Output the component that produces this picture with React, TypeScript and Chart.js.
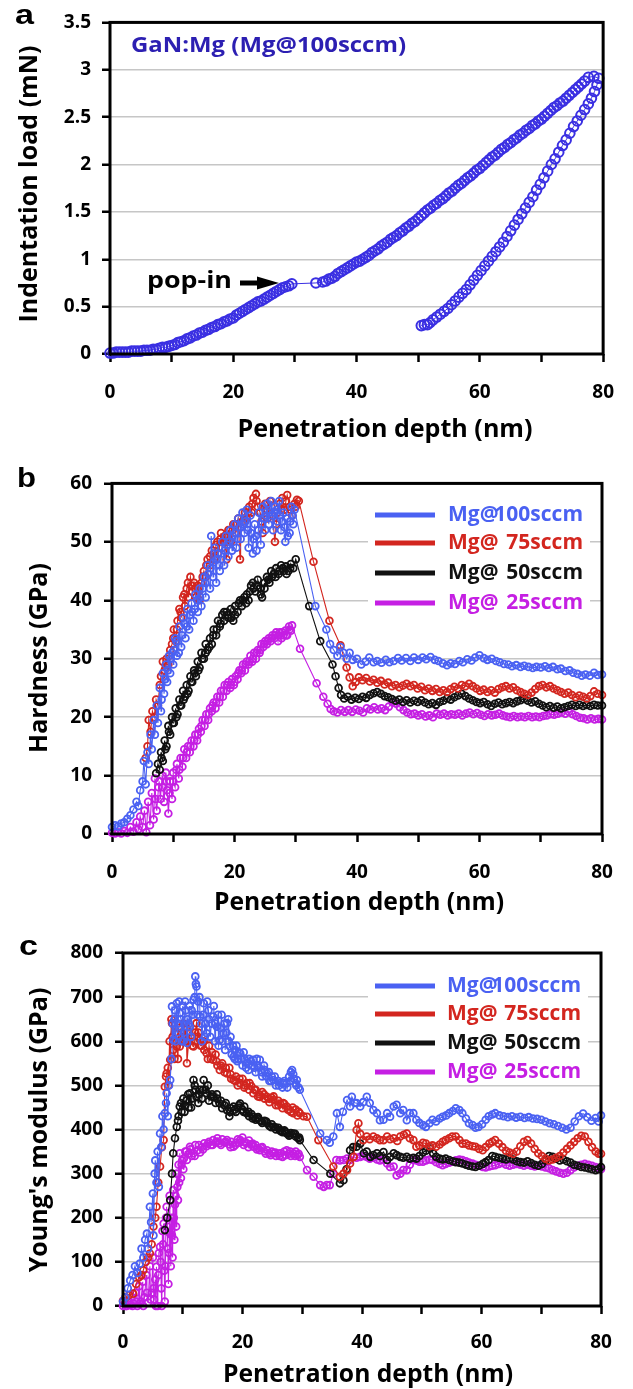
import React, { useEffect, useRef } from 'react';
import { Chart, registerables } from 'chart.js';

Chart.register(...registerables);

const FAMILY = '"Open Sans", "DejaVu Sans", sans-serif';

// ---------------- Panel a: load-displacement ----------------
const loadingCurve: [number, number][] = [
  [0,0.01],[0.5,0.01],[1,0.02],[1.5,0.02],[2,0.02],[2.5,0.02],[3,0.02],[3.5,0.03],[4,0.03],[4.5,0.03],
  [5,0.03],[5.5,0.04],[6,0.04],[6.5,0.04],[7,0.05],[7.5,0.05],[8,0.06],[8.5,0.07],[9,0.07],[9.5,0.08],
  [10,0.09],[10.5,0.1],[11,0.12],[11.5,0.13],[12,0.14],[12.5,0.16],[13,0.17],[13.5,0.19],[14,0.2],[14.5,0.22],
  [15,0.23],[15.5,0.25],[16,0.26],[16.5,0.28],[17,0.29],[17.5,0.31],[18,0.32],[18.5,0.34],[19,0.35],[19.5,0.37],
  [20,0.38],[20.5,0.41],[21,0.43],[21.5,0.45],[22,0.47],[22.5,0.49],[23,0.51],[23.5,0.53],[24,0.55],[24.5,0.56],
  [25,0.58],[25.5,0.6],[26,0.62],[26.5,0.64],[27,0.66],[27.5,0.68],[28,0.7],[28.5,0.71],[29,0.72],[29.5,0.74],
  [33.4,0.75],[34.5,0.76],[35,0.77],[35.5,0.79],[36,0.8],[36.5,0.82],[37,0.85],[37.5,0.87],[38,0.89],[38.5,0.91],
  [39,0.93],[39.5,0.95],[40,0.97],[40.5,0.98],[41,1.0],[41.5,1.02],[42,1.04],[42.5,1.07],[43,1.09],[43.5,1.11],
  [44,1.14],[44.5,1.16],[45,1.18],[45.5,1.21],[46,1.23],[46.5,1.25],[47,1.28],[47.5,1.3],[48,1.33],[48.5,1.35],
  [49,1.38],[49.5,1.4],[50,1.43],[50.5,1.46],[51,1.49],[51.5,1.52],[52,1.54],[52.5,1.57],[53,1.59],[53.5,1.62],
  [54,1.64],[54.5,1.67],[55,1.7],[55.5,1.72],[56,1.75],[56.5,1.78],[57,1.8],[57.5,1.83],[58,1.86],[58.5,1.88],
  [59,1.91],[59.5,1.94],[60,1.96],[60.5,1.99],[61,2.02],[61.5,2.05],[62,2.08],[62.5,2.1],[63,2.13],[63.5,2.16],
  [64,2.18],[64.5,2.21],[65,2.23],[65.5,2.26],[66,2.28],[66.5,2.31],[67,2.33],[67.5,2.36],[68,2.38],[68.5,2.41],
  [69,2.43],[69.5,2.46],[70,2.48],[70.5,2.51],[71,2.54],[71.5,2.57],[72,2.6],[72.5,2.62],[73,2.65],[73.5,2.67],
  [74,2.7],[74.5,2.73],[75,2.76],[75.5,2.79],[76,2.82],[76.5,2.85],[77,2.88],[77.6,2.92],[78.5,2.93],[79.3,2.91]
];
const unloadingCurve: [number, number][] = [
  [79.0,2.84],[78.6,2.77],[78.1,2.7],[77.6,2.64],[77.0,2.58],[76.4,2.52],[75.8,2.46],[75.2,2.4],[74.6,2.33],
  [74.0,2.26],[73.4,2.2],[72.8,2.13],[72.2,2.06],[71.6,2.0],[71.0,1.93],[70.4,1.86],[69.8,1.79],[69.2,1.73],
  [68.6,1.66],[68.0,1.6],[67.4,1.54],[66.8,1.48],[66.2,1.42],[65.6,1.36],[65.0,1.3],[64.4,1.24],[63.8,1.18],
  [63.2,1.13],[62.6,1.08],[62.0,1.03],[61.4,0.98],[60.8,0.93],[60.2,0.88],[59.6,0.83],[59.0,0.78],[58.4,0.73],
  [57.8,0.68],[57.2,0.64],[56.6,0.6],[56.0,0.56],[55.4,0.52],[54.8,0.48],[54.2,0.45],[53.6,0.42],[53.0,0.39],
  [52.4,0.36],[51.9,0.33],[51.5,0.31],[51.0,0.31],[50.5,0.30]
];

// ---------------- Panel b: hardness ----------------
const hard100: [number, number][] = [
  [0,1.2],[0.5,1.5],[1,1.3],[1.5,1.8],[2,2.0],[2.5,2.6],[3,3.2],[3.5,4.2],[4,5.5],[4.3,4.8],[4.6,7.5],[5,9],
  [5.2,12.5],[5.5,8.5],[5.8,14],[6,12],[6.3,17],[6.5,14.5],[6.8,19.5],[7,17],[7.3,22],[7.5,19],[7.8,25],[8,21],
  [8.3,27.5],[8.5,24],[8.8,29],[9,26],[9.3,30.5],[9.5,27.5],[9.8,31],[10,29],[10.3,33.5],[10.6,30.5],[11,35.5],
  [11.3,32],[11.6,37],[12,33.5],[12.3,38.5],[12.6,35],[13,39.5],[13.3,36.5],[13.6,41],[14,38],[14.3,42],[14.6,39],
  [15,44],[15.3,40.5],[15.6,46],[16,42],[16.2,51],[16.5,44],[16.8,49],[17,43],[17.3,48],[17.6,45],[18,50],[18.3,46],
  [18.6,51],[19,47.5],[19.3,52],[19.6,48.5],[20,53],[20.3,49],[20.6,54],[21,50.5],[21.3,55],[21.6,51.5],[22,55.5],
  [22.3,49],[22.6,54.5],[23,48],[23.3,53],[23.6,48.5],[24,55],[24.3,49.5],[24.6,56],[25,52],[25.3,56.5],[25.6,53],
  [26,57],[26.3,52],[26.6,56],[27,53.5],[27.3,57],[27.6,52],[28,55],[28.3,50],[28.6,54],[29,51.5],[29.3,56],
  [29.6,53],[29.8,55.5],
  [33.2,39],[35,35],[35.6,32.5],[36.2,31.5],[36.8,30.5],[37.3,32],[37.8,31],[38.3,30],[38.8,31],[39.3,29.8],
  [40,30],[40.7,29],[41.4,29.5],[42,30.2],[42.7,29.4],[43.3,29.6],[44,29.3],[44.7,29.8],[45.3,29.4],[46,29.6],
  [46.7,30.1],[47.3,29.7],[48,30.1],[48.7,29.6],[49.3,30.2],[50,29.8],[50.7,30.2],[51.3,29.9],[52,30.3],[52.7,29.8],
  [53.3,29.6],[54,29.2],[54.7,28.9],[55.3,29.2],[56,29.1],[56.7,29.6],[57.3,29.4],[58,29.9],[58.7,29.7],[59.3,30.2],
  [60,30.6],[60.7,30.1],[61.3,29.8],[62,30.0],[62.7,29.6],[63.3,29.4],[64,29.1],[64.7,29.0],[65.3,28.7],[66,28.9],
  [66.7,28.6],[67.3,28.8],[68,28.6],[68.7,28.4],[69.3,28.6],[70,28.5],[70.7,28.7],[71.3,28.4],[72,28.6],[72.7,28.2],
  [73.3,28.3],[74,27.9],[74.7,28.0],[75.3,27.6],[76,27.4],[76.7,27.1],[77.3,27.3],[78,27.1],[78.7,27.6],[79.3,27.2],[80,27.3]
];
const hard100Dense: [number, number][] = [
  [8.1,23],[8.7,26.5],[9.1,28],[9.6,30],[10.1,31.5],[10.5,33],[10.9,31],[11.4,34],[11.8,36],[12.2,35.5],[12.7,37.5],
  [13.1,38],[13.5,38.5],[13.9,40],[14.4,40.5],[14.8,42],[15.2,43],[15.7,44.5],[16.1,45.5],[16.6,46.5],[17.1,47],
  [17.5,46],[17.9,48],[18.4,48.5],[18.8,49.5],[19.2,50],[19.7,51],[20.1,51.5],[20.5,50.5],[20.9,52.5],[21.4,53],
  [21.8,53.5],[22.2,52],[22.7,51.5],[23.1,50.5],[23.5,51],[23.9,52],[24.4,53],[24.8,54],[25.2,54.5],[25.7,55],
  [26.1,54.5],[26.5,55],[26.9,55.5],[27.4,54.5],[27.8,53.5],[28.2,52.5],[28.7,51],[29.1,53.5],[29.5,54.5]
];
const hard75: [number, number][] = [
  [5.5,13],[5.8,15],[6,19.5],[6.3,17.5],[6.6,21],[6.9,20],[7.2,23],[7.5,22],[7.8,25.5],[8,27],[8.3,29.5],[8.6,28],
  [8.9,30],[9.2,29],[9.5,31.5],[9.8,32.5],[10.1,35],[10.4,33],[10.7,36.5],[11,38.5],[11.3,37],[11.6,40.5],[11.9,39],
  [12.2,42],[12.5,40.5],[12.8,44],[13.1,41.5],[13.4,43],[13.7,40.5],[14,42.5],[14.3,40],[14.6,43],[15,45],[15.3,44],
  [15.6,47],[16,46],[16.3,48.5],[16.7,47],[17,49.5],[17.3,48],[17.7,50.5],[18,49],[18.4,51],[18.7,47],[19,52],
  [19.4,50],[19.8,53],[20.2,51.5],[20.6,54],[20.9,47],[21.3,53.5],[21.7,55],[22,54],[22.4,56],[22.8,55],[23.1,57.5],
  [23.5,58.2],[23.8,56],[24.2,55],[24.6,51.5],[25,56.5],[25.4,54],[25.8,57],[26.2,54.5],[26.6,50],[27,55],[27.4,56.5],
  [27.8,57.5],[28.2,55.5],[28.6,58],[29,56],[29.4,54.5],[29.8,56.5],[30.2,57.2],[30.5,57],
  [32.9,46.6],[35.5,36.5],[37.3,32.3],[38.3,28.5],[38.8,26.8],[39.3,25.3],[39.8,26],[40.3,26.8],[40.9,26.3],[41.5,26.7],
  [42.1,26.1],[42.7,26.4],[43.3,25.9],[43.9,26.2],[44.5,25.6],[45.1,25.9],[45.7,25.3],[46.3,25.5],[46.9,25.1],[47.5,25.4],
  [48.1,25.7],[48.7,25.3],[49.3,25.5],[49.9,24.9],[50.5,25.2],[51.1,24.6],[51.7,24.9],[52.3,24.5],[52.9,24.8],[53.5,24.3],
  [54.1,24.6],[54.7,24.3],[55.3,24.8],[55.9,25.2],[56.5,24.9],[57.1,25.5],[57.7,25.3],[58.3,25.7],[58.9,25.3],[59.5,24.9],
  [60.1,24.5],[60.7,24.7],[61.3,24.3],[61.9,24.6],[62.5,24.2],[63.1,24.8],[63.7,25.1],[64.3,25.3],[64.9,24.9],[65.5,25.1],
  [66.1,24.6],[66.7,24.3],[67.3,24.0],[67.9,23.8],[68.5,24.2],[69.1,24.8],[69.7,25.3],[70.3,25.5],[70.9,25.1],[71.5,25.3],
  [72.1,24.9],[72.7,24.6],[73.3,24.3],[73.9,24.0],[74.5,24.2],[75.1,23.8],[75.7,23.4],[76.3,23.7],[76.9,23.5],[77.5,23.2],
  [78.1,23.6],[78.7,24.4],[79.3,24.0],[80,23.8]
];
const hard75Dense: [number, number][] = [
  [8.8,28.5],[9.4,30.5],[10,33.5],[10.6,35],[11.2,38],[11.8,41],[12.4,43],[13,42.5],[13.6,42],[14.2,41.5],[14.8,44],
  [15.4,46],[16,47.5],[16.6,48],[17.2,50],[17.8,51.5],[18.5,50],[19.1,51],[19.7,52],[20.3,53],[21,52.5],[21.6,54],
  [22.2,55],[22.9,56.5],[23.6,57],[24.4,53.5],[25.2,55.5],[26,56],[26.8,53],[27.6,55.5],[28.4,57],[29.2,55.5],[30,56]
];
const hard50: [number, number][] = [
  [7.2,10.4],[7.5,12],[7.8,11],[8,14],[8.3,12.5],[8.6,16],[8.9,15],[9.2,18.5],[9.5,17],[9.8,20],[10.1,19],[10.4,21.5],
  [10.7,20.5],[11,23],[11.3,22],[11.6,24.5],[11.9,23.5],[12.2,25.5],[12.5,24.5],[12.8,27],[13.1,26],[13.4,28],[13.7,27],
  [14,29.5],[14.3,28.5],[14.6,31],[15,30],[15.3,32.5],[15.6,31.5],[16,33.5],[16.3,32.5],[16.6,35],[17,34],[17.3,36.5],
  [17.6,35.5],[18,37.5],[18.3,36.5],[18.7,38],[19,37],[19.4,38.5],[19.8,36.5],[20.1,39],[20.5,38],[20.9,40],[21.2,39],
  [21.6,40.5],[22,41],[22.3,40],[22.7,42.5],[23,43],[23.4,41.5],[23.8,43.5],[24.2,42],[24.5,40.5],[24.9,43],[25.3,44],
  [25.7,43],[26,45],[26.4,44.5],[26.8,45.5],[27.2,44.5],[27.6,46],[28,45],[28.4,45.8],[28.8,45],[29.2,46.2],[29.6,45.5],[30,47],
  [32.2,39],[34,33],[36,29],[36.5,27],[37,25],[37.4,23.8],[37.9,23.2],[38.5,23.5],[39.1,23],[39.7,23.3],[40.3,23.1],
  [40.9,23.5],[41.5,23.3],[42.1,23.8],[42.7,24.1],[43.3,24.3],[43.9,24.0],[44.5,23.6],[45.1,23.4],[45.7,23.1],[46.3,22.8],
  [46.9,23.0],[47.5,22.6],[48.1,22.9],[48.7,22.5],[49.3,22.8],[49.9,22.6],[50.5,22.9],[51.1,22.5],[51.7,22.2],[52.3,22.4],
  [52.9,22.1],[53.5,22.6],[54.1,22.8],[54.7,23.2],[55.3,23.0],[55.9,23.4],[56.5,23.7],[57.1,24.0],[57.7,23.6],[58.3,23.2],
  [58.9,22.9],[59.5,22.6],[60.1,22.4],[60.7,22.6],[61.3,22.2],[61.9,21.9],[62.5,22.3],[63.1,22.5],[63.7,22.2],[64.3,22.4],
  [64.9,22.6],[65.5,22.4],[66.1,22.7],[66.7,22.9],[67.3,23.1],[67.9,22.8],[68.5,22.5],[69.1,22.7],[69.7,22.3],[70.3,22.0],
  [70.9,21.7],[71.5,21.9],[72.1,21.6],[72.7,21.8],[73.3,21.5],[73.9,21.7],[74.5,21.9],[75.1,22.1],[75.7,21.9],[76.3,22.1],
  [76.9,21.9],[77.5,22.1],[78.1,21.9],[78.7,22.1],[79.3,22.0],[80,22.0]
];
const hard50Dense: [number, number][] = [
  [8.1,13],[8.7,14.5],[9.3,17.5],[9.9,19],[10.5,20],[11.1,22],[11.7,23],[12.3,24],[12.9,26],[13.5,27.5],[14.1,28],
  [14.7,30],[15.3,31],[15.9,32],[16.5,34],[17.1,35],[17.7,36],[18.3,38],[18.9,37.5],[19.5,37],[20.1,37.5],[20.7,39.5],
  [21.3,40],[21.9,39.5],[22.5,41.5],[23.1,42],[23.7,42.5],[24.3,41],[24.9,42],[25.5,43.5],[26.1,44],[26.7,44],[27.3,45],
  [27.9,45.5],[28.5,44.5],[29.1,45.5]
];
const hard25: [number, number][] = [
  [0,0.2],[0.5,0.1],[1,0.3],[1.5,0.1],[2,0.5],[2.5,0.2],[3,1.2],[3.5,0.4],[4,2],[4.3,0.8],[4.6,3],[5,1.2],[5.3,4],
  [5.6,0.3],[5.9,5.5],[6.2,1.5],[6.5,7],[6.8,2.5],[7,9.5],[7.3,4],[7.6,8],[7.9,6],[8.2,10],[8.5,5.5],[8.8,10.5],[9,7.5],
  [9.2,3.5],[9.5,9],[9.8,6],[10,10.5],[10.3,8],[10.6,12],[10.9,9.5],[11.2,13],[11.5,11.5],[11.8,14.5],[12.1,13],[12.4,15],
  [12.7,14],[13,16],[13.3,15],[13.6,17],[13.9,16],[14.2,18],[14.5,17.5],[14.8,19.5],[15.1,18.5],[15.4,20.5],[15.7,19.5],
  [16,21.5],[16.3,21],[16.6,22.5],[16.9,21.5],[17.2,23.5],[17.5,22.5],[17.8,24.5],[18.1,23.5],[18.4,25.5],[18.7,24.5],
  [19,26],[19.3,25],[19.6,26.5],[19.9,25.5],[20.2,27],[20.5,26.5],[20.8,28],[21.1,27.5],[21.4,29],[21.7,28],[22,29.5],
  [22.3,29],[22.6,30.5],[22.9,29.5],[23.2,31],[23.5,30],[23.8,31.5],[24.1,31],[24.4,32.5],[24.7,32],[25,33],[25.3,32.5],
  [25.6,33.5],[25.9,33],[26.2,34],[26.5,33.5],[26.8,34.5],[27.1,33],[27.4,34.5],[27.7,33.5],[28,34],[28.3,34.8],[28.6,34],
  [28.9,35.5],[29.2,34.8],[29.4,35.7],
  [30.7,31.7],[33.4,25.8],[34.5,23.5],[35.2,22.3],[35.7,21.4],[36.2,21],[36.8,20.8],[37.4,21.2],[38,20.9],[38.6,21.2],
  [39.2,20.9],[39.8,21.3],[40.4,21.1],[41,20.8],[41.6,21.5],[42.2,21.3],[42.8,21.7],[43.4,21.3],[44,21.5],[44.6,21.2],
  [45.2,21.8],[45.8,22.5],[46.4,22.3],[47,21.7],[47.6,21.2],[48.2,20.8],[48.8,20.5],[49.4,20.6],[50,20.3],[50.6,20.5],
  [51.2,20.1],[51.8,20.3],[52.4,20.0],[53,20.6],[53.6,20.4],[54.2,20.6],[54.8,20.3],[55.4,20.5],[56,20.4],[56.6,20.6],
  [57.2,20.3],[57.8,20.6],[58.4,20.8],[59,20.5],[59.6,20.7],[60.2,20.4],[60.8,20.2],[61.4,20.5],[62,20.3],[62.6,20.4],
  [63.2,20.6],[63.8,20.3],[64.4,20.1],[65,20.0],[65.6,20.2],[66.2,20.0],[66.8,20.1],[67.4,20.0],[68,20.2],[68.6,20.0],
  [69.2,20.1],[69.8,20.0],[70.4,20.2],[71,20.3],[71.6,20.5],[72.2,20.4],[72.8,20.6],[73.4,20.8],[74,20.6],[74.6,20.9],
  [75.2,20.5],[75.8,20.2],[76.4,19.9],[77,19.8],[77.6,19.6],[78.2,19.8],[78.8,19.6],[79.4,19.7],[80,19.6]
];
const hard25Dense: [number, number][] = [
  [7.1,6],[7.7,9],[8.3,8],[8.9,9],[9.4,7],[10,9],[10.5,11],[11,11],[11.6,13],[12.2,14],[12.8,15],[13.4,16],[14,17],
  [14.6,18.5],[15.2,19.5],[15.8,20.5],[16.4,22],[17,22.5],[17.6,23.5],[18.2,24.5],[18.8,25.5],[19.4,25.5],[20,26],
  [20.6,27.5],[21.2,28],[21.8,29],[22.4,29.5],[23,30],[23.6,31],[24.2,31.5],[24.8,32.5],[25.4,33],[26,33.5],[26.6,34],
  [27.2,34],[27.8,34.5],[28.4,34],[29,35]
];

// ---------------- Panel c: Young's modulus ----------------
const mod100: [number, number][] = [
  [0,10],[0.4,20],[0.8,40],[1.2,58],[1.6,70],[2,90],[2.4,75],[2.8,96],[3.1,130],[3.4,110],[3.7,150],[4,164],[4.2,130],
  [4.5,225],[4.7,190],[5,255],[5.1,160],[5.3,300],[5.4,330],[5.6,280],[5.8,350],[6,270],[6.2,391],[6.4,360],[6.6,430],
  [6.8,400],[7,437],[7.2,460],[7.3,482],[7.5,430],[7.7,500],[7.9,512],[8.1,560],[8.2,679],[8.4,603],[8.6,650],[8.8,600],
  [9,686],[9.2,640],[9.5,664],[9.8,600],[10,680],[10.2,620],[10.5,670],[10.7,596],[11,640],[11.2,633],[11.5,670],
  [11.8,694],[12.1,747],[12.2,730],[12.3,724],[12.6,690],[12.9,656],[13.2,600],[13.5,686],[13.8,640],[14,618],[14.3,670],
  [14.6,610],[15.1,656],[15.4,600],[15.7,633],[16,590],[16.2,603],[16.5,660],[16.8,618],[17.1,580],[17.4,641],[17.7,600],
  [17.9,588],[18.2,570],[18.5,565],[18.8,580],[19.1,555],[19.4,575],[19.6,573],[20,545],[20.3,560],[20.7,550],[21,535],
  [21.4,555],[21.8,558],[22.2,530],[22.5,545],[22.9,558],[23.3,520],[23.7,535],[24.1,527],[24.5,510],[24.9,520],[25.2,512],
  [25.6,500],[26,510],[26.3,505],[26.7,495],[27,510],[27.4,505],[27.8,520],[28.1,530],[28.3,535],[28.6,515],[28.9,505],
  [29.1,512],[29.4,495],[29.6,490],
  [33,391],[34.1,376],[34.6,370],[35.2,384],[35.8,437],[36.3,406],[36.8,440],[37.5,467],[38,452],[38.3,474],[38.8,460],
  [39.1,460],[39.7,452],[40.2,462],[40.8,474],[41.3,460],[41.9,444],[42.5,437],[43,421],[43.6,422],[44.2,437],[44.7,429],
  [45.3,452],[45.8,456],[46.4,437],[46.9,444],[47.5,421],[48,437],[48.6,437],[49.1,422],[49.6,415],[50.2,410],[50.7,406],
  [51.3,414],[51.8,422],[52.4,418],[53,425],[53.5,429],[54.1,432],[54.6,437],[55.2,442],[55.7,448],[56.3,444],[56.8,437],
  [57.4,425],[57.9,414],[58.5,410],[59,404],[59.5,406],[60.1,412],[60.7,422],[61.2,430],[61.8,434],[62.3,437],[63,432],
  [63.7,430],[64.4,428],[65.1,430],[65.8,427],[66.5,429],[67.2,426],[67.9,428],[68.6,425],[69.3,424],[70,422],[70.7,418],
  [71.4,414],[72.1,412],[72.8,408],[73.5,404],[74.2,400],[74.9,404],[75.6,418],[76.3,430],[77,436],[77.7,428],[78.4,420],
  [79.1,426],[79.6,418],[80,432]
];
const mod100Dense: [number, number][] = [
  [8.3,640],[8.7,670],[9.1,620],[9.4,690],[9.7,650],[10.1,600],[10.4,690],[10.8,650],[11.1,680],[11.4,610],[11.7,660],
  [12,700],[12.5,660],[12.8,700],[13.1,640],[13.4,660],[13.7,610],[14.1,690],[14.4,650],[14.8,640],[15.2,680],[15.5,640],
  [15.9,660],[16.3,630],[16.6,600],[17,640],[17.3,620],[17.6,650],[18,610],[18.4,590],[18.7,560],[19,590],[19.3,560],
  [19.8,560],[20.2,575],[20.6,540],[21.1,560],[21.6,545],[22,540],[22.4,560],[22.8,540],[23.2,530],[23.6,545],[24,520],
  [24.4,530],[24.8,510],[25.4,520],[26.1,500],[26.8,505],[27.5,495],[28,510],[28.5,525],[29,500]
];
const mod75: [number, number][] = [
  [0,12],[0.5,20],[1,25],[1.7,28],[2.2,50],[2.7,65],[3.1,70],[3.4,81],[3.8,100],[4.2,110],[4.5,119],[4.8,140],[5.1,180],
  [5.4,200],[5.6,225],[5.9,280],[6.2,316],[6.5,360],[6.8,376],[7,497],[7.3,527],[7.6,500],[7.9,558],[8.1,650],[8.2,641],
  [8.4,580],[8.7,620],[9,588],[9.2,560],[9.5,588],[9.8,620],[10.1,640],[10.4,600],[10.7,550],[11,600],[11.2,633],[11.5,610],
  [11.8,588],[12.1,620],[12.3,641],[12.6,620],[12.9,603],[13.2,590],[13.6,580],[14,573],[14.4,590],[14.7,560],[15.1,558],
  [15.5,570],[15.8,545],[16.2,535],[16.6,550],[17,530],[17.4,527],[17.8,540],[18.1,515],[18.5,512],[18.9,520],[19.2,500],
  [19.6,505],[20,515],[20.3,495],[20.7,505],[21.1,490],[21.5,498],[21.8,482],[22.2,490],[22.6,475],[22.9,474],[23.3,485],
  [23.7,470],[24.1,474],[24.5,462],[24.9,472],[25.2,467],[25.6,455],[26,465],[26.3,459],[26.7,448],[27,458],[27.4,452],
  [27.8,445],[28.1,440],[28.5,437],[28.9,445],[29.2,432],[29.6,437],[30.2,430],[30.8,429],
  [32.7,376],[35.2,316],[36.3,293],[36.9,300],[37.5,308],[38,323],[38.6,338],[39.1,399],[39.4,414],[39.7,390],[40.2,376],
  [40.8,384],[41.3,378],[41.9,384],[42.5,380],[43,376],[43.6,376],[44.2,384],[44.7,378],[45.3,380],[45.9,374],[46.4,384],
  [47,388],[47.5,391],[48,380],[48.6,376],[49.1,361],[49.6,364],[50.2,370],[50.7,368],[51.3,362],[51.8,364],[52.4,361],
  [53,366],[53.5,372],[54,376],[54.6,380],[55.1,384],[55.7,384],[56.3,376],[56.8,368],[57.4,368],[57.9,364],[58.5,362],
  [59,361],[59.6,356],[60.2,353],[60.7,360],[61.3,368],[61.8,372],[62.3,376],[62.9,368],[63.5,360],[64.1,352],[64.7,348],
  [65.3,345],[65.9,350],[66.5,362],[67.1,372],[67.7,376],[68.3,368],[68.9,356],[69.5,346],[70.1,340],[70.7,334],[71.3,330],
  [71.9,332],[72.5,336],[73.1,340],[73.7,348],[74.3,356],[74.9,364],[75.5,372],[76.1,380],[76.7,386],[77.3,384],[77.9,372],
  [78.5,360],[79.1,350],[79.6,345],[80,345]
];
const mod75Dense: [number, number][] = [
  [7.2,520],[7.5,540],[7.8,600],[8.3,610],[8.6,560],[8.9,600],[9.3,630],[9.7,600],[10.2,610],[10.6,630],[11.1,620],
  [11.6,590],[12,600],[12.5,610],[13,590],[13.5,600],[14.2,560],[14.9,575],[15.6,555],[16.4,545],[17.2,540],[18,525],
  [18.8,510],[19.5,515],[20.4,500],[21.2,505],[22,490],[22.8,480],[23.6,480],[24.4,470],[25.2,475],[26,455],[26.8,460],
  [27.6,445],[28.4,450],[29.4,440]
];
const mod50: [number, number][] = [
  [7,172],[7.4,200],[7.9,240],[8.2,300],[8.4,346],[8.7,380],[9,406],[9.3,430],[9.5,452],[9.8,440],[10.1,470],[10.4,455],
  [10.7,467],[11,450],[11.2,482],[11.5,470],[11.8,512],[12.1,490],[12.3,474],[12.6,460],[12.9,490],[13.2,470],[13.5,512],
  [13.8,490],[14,482],[14.4,465],[14.7,475],[15.1,474],[15.5,460],[15.8,470],[16.2,459],[16.6,448],[17,455],[17.4,444],
  [17.8,430],[18.1,448],[18.5,452],[18.9,440],[19.2,450],[19.6,459],[20,445],[20.3,452],[20.7,437],[21.1,430],[21.5,435],
  [21.8,429],[22.2,422],[22.6,428],[22.9,421],[23.3,415],[23.7,420],[24.1,414],[24.5,408],[24.9,412],[25.2,406],[25.6,400],
  [26,404],[26.3,399],[26.7,394],[27,398],[27.4,391],[27.8,386],[28.1,392],[28.5,391],[28.9,384],[29.3,380],[29.6,376],
  [31.9,331],[34.7,300],[36.3,278],[36.9,285],[37.4,310],[38,353],[38.5,360],[39.1,361],[39.7,368],[40.3,346],[40.8,350],
  [41.4,338],[41.9,342],[42.5,346],[43,340],[43.6,349],[44.2,331],[44.7,338],[45.3,346],[45.8,342],[46.4,338],[46.9,336],
  [47.5,338],[48,334],[48.6,336],[49.1,334],[49.6,340],[50.2,348],[50.7,352],[51.4,357],[51.9,346],[52.4,338],[53,334],
  [53.5,332],[54,334],[54.6,331],[55.2,328],[55.7,326],[56.3,325],[56.8,323],[57.4,320],[57.9,318],[58.5,316],[59,315],
  [59.6,318],[60.2,322],[60.7,326],[61.2,331],[61.8,340],[62.3,338],[62.9,336],[63.5,334],[64.1,332],[64.7,335],[65.3,332],
  [65.9,328],[66.5,326],[67.1,325],[67.7,328],[68.3,324],[68.9,320],[69.5,318],[70.1,322],[70.7,330],[71.3,340],[71.9,338],
  [72.5,334],[73.1,330],[73.7,332],[74.3,328],[74.9,325],[75.5,320],[76.1,318],[76.7,315],[77.3,314],[77.9,312],[78.5,310],
  [79.1,308],[79.6,310],[80,315]
];
const mod50Dense: [number, number][] = [
  [9.2,420],[9.7,460],[10.3,440],[10.9,480],[11.4,450],[12,500],[12.7,480],[13.4,490],[14.2,500],[14.9,480],[15.7,480],
  [16.4,465],[17.2,460],[17.9,440],[18.7,445],[19.4,455],[20.2,440],[21,440],[21.7,425],[22.5,425],[23.2,418],[24,418],
  [24.8,405],[25.5,405],[26.4,396],[27.2,395],[28,388],[28.8,390],[29.5,382]
];
const mod25: [number, number][] = [
  [0,0],[0.3,5],[0.6,0],[0.9,10],[1.2,2],[1.5,20],[1.8,5],[2.1,30],[2.4,0],[2.7,45],[3,10],[3.3,55],[3.6,20],[3.9,70],
  [4.2,8],[4.5,90],[4.8,30],[5,110],[5.2,15],[5.4,60],[5.6,89],[5.8,0],[6,120],[6.2,134],[6.4,40],[6.6,170],[6.8,187],
  [6.9,80],[7,10],[7.2,200],[7.3,225],[7.5,130],[7.6,50],[7.8,250],[7.9,164],[8,90],[8.1,200],[8.3,110],[8.4,263],
  [8.6,150],[8.7,230],[8.9,180],[9,300],[9.2,240],[9.3,320],[9.5,346],[9.7,290],[9.9,330],[10.1,310],[10.4,350],
  [10.7,331],[11,345],[11.2,361],[11.5,340],[11.8,346],[12.1,365],[12.5,353],[12.9,348],[13.2,360],[13.6,369],[14,362],
  [14.4,372],[14.7,365],[15.1,376],[15.5,370],[15.8,380],[16.2,369],[16.6,378],[17,370],[17.4,376],[17.8,366],[18.1,372],
  [18.5,361],[18.9,370],[19.2,378],[19.6,376],[20,382],[20.3,372],[20.7,369],[21.1,375],[21.5,366],[21.8,361],[22.2,365],
  [22.6,358],[22.9,353],[23.3,360],[23.7,350],[24.1,353],[24.5,346],[24.9,350],[25.2,346],[25.6,340],[26,345],[26.3,346],
  [26.7,338],[27,350],[27.4,353],[27.8,345],[28.1,340],[28.5,346],[28.9,350],[29.2,342],[29.6,338],
  [30.8,308],[31.9,293],[33,274],[33.6,270],[34.1,274],[34.6,274],[35.2,300],[35.7,331],[36.3,330],[36.9,331],[37.5,334],
  [38,331],[38.6,338],[39.1,336],[39.7,338],[40.2,340],[40.8,338],[41.3,334],[41.9,336],[42.5,332],[43,330],[43.6,331],
  [44.2,323],[44.7,315],[45.3,316],[45.8,296],[46.4,300],[46.9,308],[47.5,308],[48,320],[48.6,331],[49.1,330],[49.6,327],
  [50.2,327],[50.7,330],[51.3,332],[51.8,331],[52.4,326],[53,322],[53.5,319],[54,322],[54.6,325],[55.2,327],[55.7,330],
  [56.3,332],[56.8,331],[57.4,328],[57.9,325],[58.5,323],[59,320],[59.6,318],[60.2,315],[60.7,314],[61.3,316],[61.8,318],
  [62.3,319],[62.9,322],[63.5,324],[64.1,320],[64.7,318],[65.3,320],[65.9,322],[66.5,320],[67.1,318],[67.7,320],[68.3,318],
  [68.9,316],[69.5,318],[70.1,316],[70.7,314],[71.3,312],[71.9,308],[72.5,305],[73.1,302],[73.7,300],[74.3,302],[74.9,308],
  [75.5,314],[76.1,318],[76.7,320],[77.3,322],[77.9,320],[78.5,318],[79.1,315],[79.6,312],[80,310]
];
const mod25Dense: [number, number][] = [
  [0.5,0],[1,3],[1.6,0],[2.2,10],[2.8,5],[3.4,0],[4,30],[4.6,15],[5.1,40],[5.5,0],[5.9,70],[6.3,100],[6.5,0],[6.7,140],
  [7.1,90],[7.4,180],[7.7,120],[8.2,160],[8.5,200],[8.8,250],[9.1,270],[9.4,280],[9.8,320],[10.2,335],[10.6,350],
  [11.3,355],[12,340],[12.7,365],[13.4,355],[14.2,368],[15,365],[15.7,372],[16.4,365],[17.2,372],[18,360],[18.8,365],
  [19.5,370],[20.2,365],[21,360],[21.7,368],[22.4,355],[23.1,358],[23.9,345],[24.7,342],[25.5,348],[26.2,340],[27.2,342],
  [28,350],[28.8,340],[29.4,345]
];

const seriesLabels = ['Mg@100sccm', 'Mg@ 75sccm', 'Mg@ 50sccm', 'Mg@ 25sccm'];
const seriesColors = ['#4a61f2', '#d3261f', '#111111', '#c51fe3'];
const xTicksLabelled = [0, 20, 40, 60, 80];

const toXY = (arr: [number, number][]) => arr.map(([x, y]) => ({ x, y }));
const byDepth = (a: [number, number][], b: [number, number][]) =>
  [...a, ...b].sort((p, q) => p[0] - q[0]);

type TextItem = {
  text: string; x: number; y: number; size: number; color?: string;
  align?: CanvasTextAlign; baseline?: CanvasTextBaseline; rotate?: boolean;
  w?: number; family?: string; weight?: string;
};

function textPlugin(items: TextItem[], extra?: (ctx: CanvasRenderingContext2D) => void) {
  return {
    id: 'texts',
    afterDraw(chart: any) {
      const ctx: CanvasRenderingContext2D = chart.ctx;
      for (const t of items) {
        ctx.save();
        ctx.font = `${t.weight || 'bold'} ${t.size}px ${t.family || FAMILY}`;
        ctx.fillStyle = t.color || '#000';
        ctx.textBaseline = t.baseline || 'middle';
        ctx.textAlign = t.align || 'center';
        ctx.translate(t.x, t.y);
        if (t.rotate) ctx.rotate(-Math.PI / 2);
        if (t.w) {
          const m = ctx.measureText(t.text).width;
          ctx.scale(t.w / m, 1);
        }
        ctx.fillText(t.text, 0, 0);
        ctx.restore();
      }
      if (extra) extra(ctx);
    },
  };
}

const framePlugin = {
  id: 'frame',
  afterDatasetsDraw(chart: any) {
    const { ctx, chartArea: a } = chart;
    ctx.save();
    ctx.strokeStyle = '#000';
    ctx.lineWidth = 3;
    ctx.strokeRect(a.left, a.top, a.right - a.left, a.bottom - a.top);
    ctx.restore();
  },
};

function legendPlugin(cfg: { rows: number[]; x0: number; x1: number; tx: number; tr: number; box: number[]; size: number }) {
  return {
    id: 'customLegend',
    afterDatasetsDraw(chart: any) {
      const ctx: CanvasRenderingContext2D = chart.ctx;
      const [l, t, r, b] = cfg.box;
      ctx.save();
      ctx.fillStyle = '#fff';
      ctx.fillRect(l, t, r - l, b - t);
      chart.data.datasets.forEach((ds: any, i: number) => {
        const y = cfg.rows[i];
        ctx.strokeStyle = ds.borderColor;
        ctx.lineWidth = 5;
        ctx.beginPath();
        ctx.moveTo(cfg.x0, y);
        ctx.lineTo(cfg.x1, y);
        ctx.stroke();
        const label: string = ds.label;
        const k = label.indexOf('@') + 1;
        ctx.fillStyle = ds.borderColor;
        ctx.font = `bold ${cfg.size}px ${FAMILY}`;
        ctx.textBaseline = 'middle';
        ctx.textAlign = 'left';
        ctx.fillText(label.slice(0, k), cfg.tx, y);
        ctx.textAlign = 'right';
        ctx.fillText(label.slice(k).trim(), cfg.tr, y);
      });
      ctx.restore();
    },
  };
}

function axes(o: { yMax: number; yStep: number; yWidth: number; xHeight: number; yPad: number; xPad: number }) {
  const tickFont = { family: FAMILY, size: 19, weight: 'bold' as const };
  return {
    x: {
      type: 'linear' as const,
      min: 0, max: 80,
      ticks: {
        stepSize: 10, autoSkip: false, maxRotation: 0, color: '#000', font: tickFont, padding: o.xPad,
        callback: (v: any) => (xTicksLabelled.includes(Number(v)) ? String(v) : ''),
      },
      grid: { display: true, drawOnChartArea: false, drawTicks: true, tickLength: 8, tickColor: '#000', tickWidth: 2.5 },
      border: { display: false },
      afterFit: (s: any) => { s.height = o.xHeight; },
    },
    y: {
      type: 'linear' as const,
      min: 0, max: o.yMax,
      ticks: {
        stepSize: o.yStep, color: '#000', font: tickFont, padding: o.yPad,
        callback: (v: any) => String(Math.round(Number(v) * 100) / 100),
      },
      grid: { color: '#c6c6c6', lineWidth: 1.5, drawTicks: true, tickLength: 8, tickColor: '#000', tickWidth: 2.5 },
      border: { display: false },
      afterFit: (s: any) => { s.width = o.yWidth; },
    },
  };
}

function seriesDatasets(list: [number, number][][]) {
  return list.map((arr, i) => ({
    label: seriesLabels[i],
    data: toXY(arr),
    borderColor: seriesColors[i],
    backgroundColor: 'rgba(0,0,0,0)',
    pointBorderColor: seriesColors[i],
    pointBackgroundColor: 'rgba(255,255,255,0)',
    pointRadius: 3.4,
    pointBorderWidth: 1.8,
    borderWidth: 1.1,
    showLine: true,
    tension: 0,
    clip: false as const,
  }));
}

function baseOptions(padTop: number, padRight: number, scales: any) {
  return {
    responsive: false,
    animation: false as const,
    events: [] as any[],
    layout: { padding: { top: padTop, right: padRight, left: 0, bottom: 0 }, autoPadding: false },
    plugins: { legend: { display: false }, tooltip: { enabled: false } },
    scales,
  };
}

function drawArrow(ctx: CanvasRenderingContext2D) {
  ctx.save();
  ctx.fillStyle = '#000';
  ctx.fillRect(240, 280.5, 20, 5);
  ctx.beginPath();
  ctx.moveTo(257, 276.5);
  ctx.lineTo(279, 283);
  ctx.lineTo(257, 289.5);
  ctx.closePath();
  ctx.fill();
  ctx.restore();
}

function useChart(ref: React.RefObject<HTMLCanvasElement>, make: () => any) {
  useEffect(() => {
    if (!ref.current) return;
    const chart = new Chart(ref.current, make());
    return () => chart.destroy();
  }, []);
}

export default function App() {
  const refA = useRef<HTMLCanvasElement>(null);
  const refB = useRef<HTMLCanvasElement>(null);
  const refC = useRef<HTMLCanvasElement>(null);

  useChart(refA, () => ({
    type: 'scatter',
    data: {
      datasets: [{
        label: 'GaN:Mg (Mg@100sccm)',
        data: toXY([...loadingCurve, ...unloadingCurve]),
        borderColor: '#3a2fe2',
        backgroundColor: 'rgba(0,0,0,0)',
        pointBorderColor: '#3a2fe2',
        pointBackgroundColor: 'rgba(255,255,255,0)',
        pointRadius: 4.8,
        pointBorderWidth: 2,
        borderWidth: 1,
        showLine: true,
        clip: false,
      }],
    },
    options: baseOptions(14, 25, axes({ yMax: 3.5, yStep: 0.5, yWidth: 110, xHeight: 106, yPad: 11, xPad: 19 })),
    plugins: [framePlugin, textPlugin([
      { text: 'a', x: 15, y: 24, size: 28, align: 'left', baseline: 'alphabetic', family: '"Liberation Sans", Arial, sans-serif', w: 19 },
      { text: 'Indentation load (mN)', x: 30, y: 184, size: 25, rotate: true },
      { text: 'Penetration depth (nm)', x: 385, y: 430, size: 25, w: 295 },
      { text: 'GaN:Mg (Mg@100sccm)', x: 131, y: 46, size: 21, align: 'left', color: '#2c1fb2', w: 275 },
      { text: 'pop-in', x: 147, y: 288, size: 23, align: 'left', baseline: 'alphabetic', w: 85 },
    ], drawArrow)],
  }));

  useChart(refB, () => ({
    type: 'scatter',
    data: {
      datasets: seriesDatasets([
        byDepth(hard100, hard100Dense), byDepth(hard75, hard75Dense),
        byDepth(hard50, hard50Dense), byDepth(hard25, hard25Dense),
      ]),
    },
    options: baseOptions(23, 31, axes({ yMax: 60, yStep: 10, yWidth: 112, xHeight: 81, yPad: 12, xPad: 19 })),
    plugins: [framePlugin,
      legendPlugin({ rows: [55, 83, 113, 143], x0: 375, x1: 435, tx: 448, tr: 583, box: [368, 38, 590, 158], size: 21 }),
      textPlugin([
        { text: 'b', x: 17, y: 27, size: 28, align: 'left', baseline: 'alphabetic', family: '"Liberation Sans", Arial, sans-serif', w: 19 },
        { text: 'Hardness (GPa)', x: 40, y: 198, size: 25, rotate: true },
        { text: 'Penetration depth (nm)', x: 359, y: 443, size: 25, w: 290 },
      ])],
  }));

  useChart(refC, () => ({
    type: 'scatter',
    data: {
      datasets: seriesDatasets([
        byDepth(mod100, mod100Dense), byDepth(mod75, mod75Dense),
        byDepth(mod50, mod50Dense), byDepth(mod25, mod25Dense),
      ]),
    },
    options: baseOptions(38, 32, axes({ yMax: 800, yStep: 100, yWidth: 123, xHeight: 83, yPad: 12, xPad: 17 })),
    plugins: [framePlugin,
      legendPlugin({ rows: [71, 99, 128, 157], x0: 375, x1: 435, tx: 447, tr: 581, box: [368, 55, 588, 167], size: 21 }),
      textPlugin([
        { text: 'c', x: 19, y: 40, size: 28, align: 'left', baseline: 'alphabetic', family: '"Liberation Sans", Arial, sans-serif', w: 19 },
        { text: "Young's modulus (GPa)", x: 40, y: 215, size: 25, rotate: true },
        { text: 'Penetration depth (nm)', x: 368, y: 460, size: 25, w: 290 },
      ])],
  }));

  return (
    <div style={{ position: 'absolute', left: 0, top: 0, width: 633, height: 1389, background: '#fff' }}>
      <canvas ref={refA} width={633} height={460} style={{ position: 'absolute', left: 0, top: 0 }} />
      <canvas ref={refB} width={633} height={455} style={{ position: 'absolute', left: 0, top: 460 }} />
      <canvas ref={refC} width={633} height={474} style={{ position: 'absolute', left: 0, top: 915 }} />
    </div>
  );
}
